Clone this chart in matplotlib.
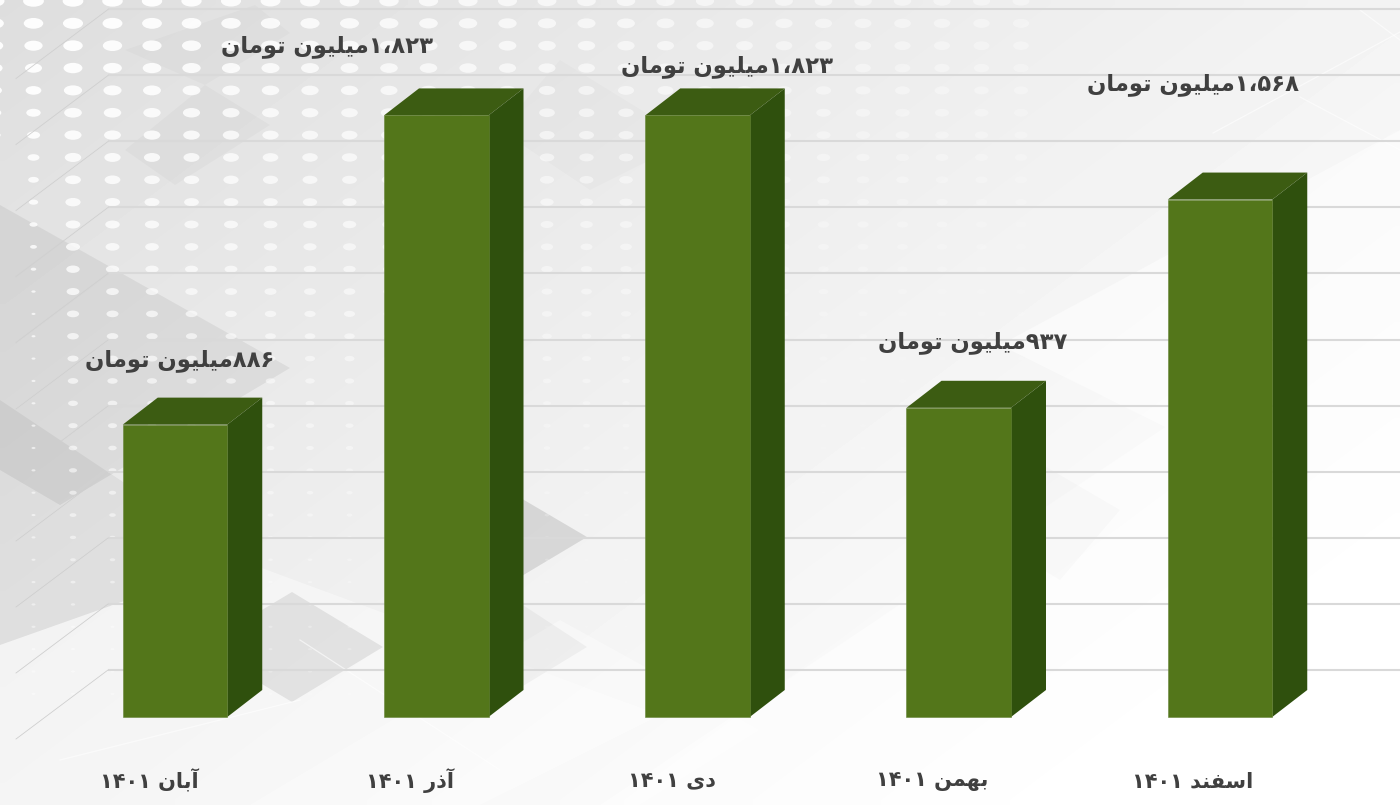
"""Monthly totals, 3D-look green bars on a grey patterned background."""

import re

import numpy as np
import matplotlib
matplotlib.use("Agg")
import matplotlib.pyplot as plt
from matplotlib.collections import EllipseCollection
from matplotlib.patches import Polygon

months = ["آبان ۱۴۰۱", "آذر ۱۴۰۱", "دی ۱۴۰۱", "بهمن ۱۴۰۱", "اسفند ۱۴۰۱"]
values = [886, 1823, 1823, 937, 1568]
value_labels = [
    "۸۸۶میلیون تومان",
    "۱،۸۲۳میلیون تومان",
    "۱،۸۲۳میلیون تومان",
    "۹۳۷میلیون تومان",
    "۱،۵۶۸میلیون تومان",
]

# label centres in figure pixels, placed by hand in the original chart
label_x = [180, 327, 727, 973, 1193]
label_y = [360, 46, 66, 342, 84]
month_x = [149, 410, 672, 932, 1193]
month_y = 781
grid_y = [9.5, 75.5, 141.5, 207.5, 273.5, 340, 406, 472, 538, 604, 670]

FRONT = "#53761a"
TOP = "#3c5c12"
SIDE = "#2f500d"
TEXT = "#404040"
W, H = 1400, 805
PX_PER_CAT = 261.25
PX_PER_VALUE = 0.33

# presentation forms: isolated, final, initial, medial
FORMS = {
    "آ": "\ufe81\ufe82", "ا": "\ufe8d\ufe8e", "د": "\ufea9\ufeaa",
    "ذ": "\ufeab\ufeac", "ر": "\ufead\ufeae", "و": "\ufeed\ufeee",
    "ب": "\ufe8f\ufe90\ufe91\ufe92", "ت": "\ufe95\ufe96\ufe97\ufe98",
    "س": "\ufeb1\ufeb2\ufeb3\ufeb4", "ف": "\ufed1\ufed2\ufed3\ufed4",
    "ل": "\ufedd\ufede\ufedf\ufee0", "م": "\ufee1\ufee2\ufee3\ufee4",
    "ن": "\ufee5\ufee6\ufee7\ufee8", "ه": "\ufee9\ufeea\ufeeb\ufeec",
    "ی": "\ufbfc\ufbfd\ufbfe\ufbff",
}


def _shape_word(word):
    out = []
    for i, ch in enumerate(word):
        forms = FORMS.get(ch)
        if forms is None:
            out.append(ch)
            continue
        prev = word[i - 1] if i else ""
        after = word[i + 1] if i + 1 < len(word) else ""
        joins_prev = prev in FORMS and len(FORMS[prev]) == 4
        joins_next = after in FORMS and len(forms) == 4
        if joins_prev and joins_next:
            out.append(forms[3])
        elif joins_next:
            out.append(forms[2])
        elif joins_prev:
            out.append(forms[1])
        else:
            out.append(forms[0])
    return "".join(out)


def rtl(text):
    """matplotlib has no shaping: join the letters and lay the runs out by hand."""
    runs = re.findall(r"[۰-۹،]+|[^۰-۹،]+", text)
    visual = []
    for run in reversed(runs):
        if run[0] in "۰۱۲۳۴۵۶۷۸۹":
            visual.append(run)
        else:
            words = [_shape_word(w)[::-1] for w in run.split(" ")]
            visual.append(" ".join(reversed(words)))
    return "".join(visual)


def draw_background(ax):
    xx, yy = np.meshgrid(np.linspace(0, 1, 140), np.linspace(0, 1, 80))
    shade = 0.87 + 0.13 * np.clip(xx * 0.65 + yy * 0.5, 0, 1)
    ax.imshow(shade, cmap="gray", vmin=0, vmax=1, extent=(0, W, H, 0),
              aspect="auto", interpolation="bilinear", zorder=0)

    # big diamonds, (colour, alpha, corners); the white ones go underneath
    shapes = [
        ("#ffffff", 0.40, [(0, 645), (240, 560), (660, 715), (480, 805), (0, 805)]),
        ("#ffffff", 0.35, [(250, 805), (560, 620), (760, 730), (640, 805)]),
        ("#ffffff", 0.50, [(1400, 130), (1000, 345), (1165, 427), (600, 805), (1400, 805)]),
        ("#000000", 0.06, [(0, 205), (290, 368), (60, 505), (0, 470)]),
        ("#000000", 0.05, [(0, 400), (240, 560), (0, 645)]),
        ("#000000", 0.02, [(125, 50), (255, 5), (290, 33), (205, 85)]),
        ("#000000", 0.025, [(205, 85), (270, 125), (175, 185), (125, 150)]),
        ("#000000", 0.08, [(292, 592), (383, 647), (292, 702), (200, 647)]),
        ("#000000", 0.11, [(490, 480), (587, 537), (490, 595)]),
        ("#000000", 0.04, [(500, 590), (587, 647), (500, 700)]),
        ("#000000", 0.015, [(560, 60), (690, 140), (590, 190), (500, 130)]),
        ("#000000", 0.015, [(1000, 440), (1120, 510), (1060, 580), (960, 520)]),
    ]
    for color, alpha, corners in shapes:
        ax.add_patch(Polygon(corners, closed=True, facecolor=color, alpha=alpha,
                             edgecolor="none", zorder=1))

    # thin white streaks
    for x0, y0, x1, y1 in [(1213, 133, 1400, 32), (1300, 97, 1400, 150),
                           (1360, 10, 1400, 40), (60, 760, 300, 700),
                           (300, 640, 500, 770)]:
        ax.plot([x0, x1], [y0, y1], color="white", lw=0.9, alpha=0.6, zorder=1.2)

    # dot screen
    gx, gy = np.meshgrid(np.arange(-6, 1060, 39.5), np.arange(1, 700, 22.35))
    gx, gy = gx.ravel(), gy.ravel()
    w = np.clip(21 - 0.027 * gy - 0.004 * gx, 4, None)
    w = np.where(gx < 60, np.clip(w - 0.03 * gy, 4, None), w)
    alpha = np.clip(1.05 - gx / 1500 - gy / 1100, 0.1, 0.95)
    dots = EllipseCollection(w, w * 0.55, np.zeros_like(w), units="xy",
                             offsets=np.column_stack([gx, gy]),
                             offset_transform=ax.transData,
                             facecolors=np.column_stack([np.ones((gx.size, 3)), alpha]),
                             edgecolors="none", zorder=1.5)
    ax.add_collection(dots)

    # wall lines and the short floor ticks going down-left
    for y in grid_y:
        ax.plot([108, W], [y, y], color="#d9d9d9", lw=1.5, zorder=2,
                solid_capstyle="butt")
        ax.plot([108, 16], [y, y + 69], color="#cfcfcf", lw=0.6, zorder=2)

    for x, y, label in zip(label_x, label_y, value_labels):
        ax.text(x, y, rtl(label), ha="center", va="center", fontsize=16.4,
                fontweight="bold", color=TEXT, zorder=6)
    for x, label in zip(month_x, months):
        ax.text(x, month_y, rtl(label), ha="center", va="center", fontsize=15,
                fontweight="bold", color=TEXT, zorder=6)


def draw_bars(ax):
    x = np.arange(len(values))
    half = 104.5 / PX_PER_CAT / 2
    dx = 35 / PX_PER_CAT
    dy = 27 / PX_PER_VALUE
    for xi, v in zip(x, values):
        top = [(xi - half, v), (xi + half, v), (xi + half + dx, v + dy), (xi - half + dx, v + dy)]
        side = [(xi + half, 0), (xi + half + dx, dy), (xi + half + dx, v + dy), (xi + half, v)]
        ax.add_patch(Polygon(top, closed=True, facecolor=TOP, edgecolor="none", zorder=3))
        ax.add_patch(Polygon(side, closed=True, facecolor=SIDE, edgecolor="none", zorder=3))
    ax.bar(x, values, width=2 * half, color=FRONT, edgecolor="#668438", linewidth=0.4, zorder=4)
    ax.set_xlim(-175 / PX_PER_CAT, (W - 175) / PX_PER_CAT)
    ax.set_ylim((717 - H) / PX_PER_VALUE, 717 / PX_PER_VALUE)
    ax.axis("off")


def render(out_path="out.png"):
    plt.rcParams["font.family"] = ["DejaVu Sans"]
    fig = plt.figure(figsize=(W / 100, H / 100), dpi=100)
    bg = fig.add_axes([0, 0, 1, 1])
    bg.set_xlim(0, W)
    bg.set_ylim(H, 0)
    bg.axis("off")
    draw_background(bg)
    bg.set_xlim(0, W)
    bg.set_ylim(H, 0)

    ax = fig.add_axes([0, 0, 1, 1], facecolor="none")
    draw_bars(ax)

    fig.savefig(out_path, dpi=100)
    plt.close(fig)


if __name__ == "__main__":
    render()
